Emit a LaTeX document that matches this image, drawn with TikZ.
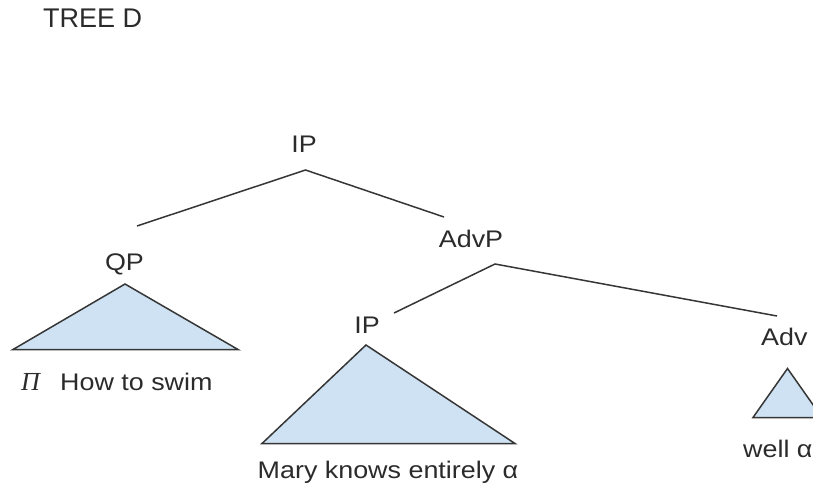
\documentclass[tikz,border=0pt]{standalone}
\usepackage{fontspec}
\usepackage{graphicx}
\setmainfont{Liberation Sans}
\newfontfamily\pifont{Liberation Serif}
\newcommand{\hstretch}[1]{\scalebox{1.12}[1]{#1}}
\definecolor{txt}{HTML}{2B2B2B}
\definecolor{ln}{HTML}{363636}
\definecolor{triblue}{HTML}{CFE2F3}
\begin{document}
\begin{tikzpicture}[x=1pt,y=-1pt,
  lbl/.style={inner sep=0pt, font=\fontsize{24}{28}\selectfont, text=txt},
  edge/.style={draw=ln, line width=1.5pt},
  tri/.style={draw=ln, line width=1.5pt, fill=triblue, line join=miter}]
\useasboundingbox (0,0) rectangle (813,493);
\clip (0,0) rectangle (813,493);
% labels
\node[lbl, font=\fontsize{27}{30}\selectfont, anchor=base west] (title) at (43,27) {TREE D};
\node[lbl, anchor=base] (ip) at (304,152) {\hstretch{IP}};
\node[lbl, anchor=base] (qp) at (124.5,270) {\hstretch{QP}};
\node[lbl, anchor=base] (advp) at (471,247) {\hstretch{AdvP}};
\node[lbl, anchor=base] (ip2) at (367,333) {\hstretch{IP}};
\node[lbl, anchor=base west] (adv) at (761,345) {\hstretch{Adv}};
\node[lbl, font=\fontsize{26}{28}\selectfont, anchor=base west] (pi) at (21,390) {\pifont\itshape Π};
\node[lbl, anchor=base west] (swim) at (60,390) {\hstretch{How to swim}};
\node[lbl, anchor=base] (mary) at (388,478) {\hstretch{Mary knows entirely α}};
\node[lbl, anchor=base west] (well) at (743,457) {\hstretch{well α}};
% branch points
\coordinate (ipB) at (305.5,170);
\coordinate (qpT) at (137,226);
\coordinate (advpT) at (444,217);
\coordinate (advpB) at (495,264);
\coordinate (ip2T) at (394,313);
\coordinate (advT) at (777,316);
% triangle corners
\coordinate (qpA) at (125,284);
\coordinate (qpL) at (13,349.5);
\coordinate (qpR) at (238,349.5);
\coordinate (ip2A) at (366,345);
\coordinate (ip2L) at (262,443.5);
\coordinate (ip2R) at (515,443.5);
\coordinate (advA) at (787.5,368.5);
\coordinate (advL) at (753,417.5);
\coordinate (advR) at (822,417.5);
% connectors
\draw[edge] (qpT) -- (ipB) -- (advpT);
\draw[edge] (ip2T) -- (advpB) -- (advT);
% triangles
\draw[tri] (qpA) -- (qpL) -- (qpR) -- cycle;
\draw[tri] (ip2A) -- (ip2L) -- (ip2R) -- cycle;
\draw[tri] (advA) -- (advL) -- (advR) -- cycle;
\end{tikzpicture}
\end{document}
